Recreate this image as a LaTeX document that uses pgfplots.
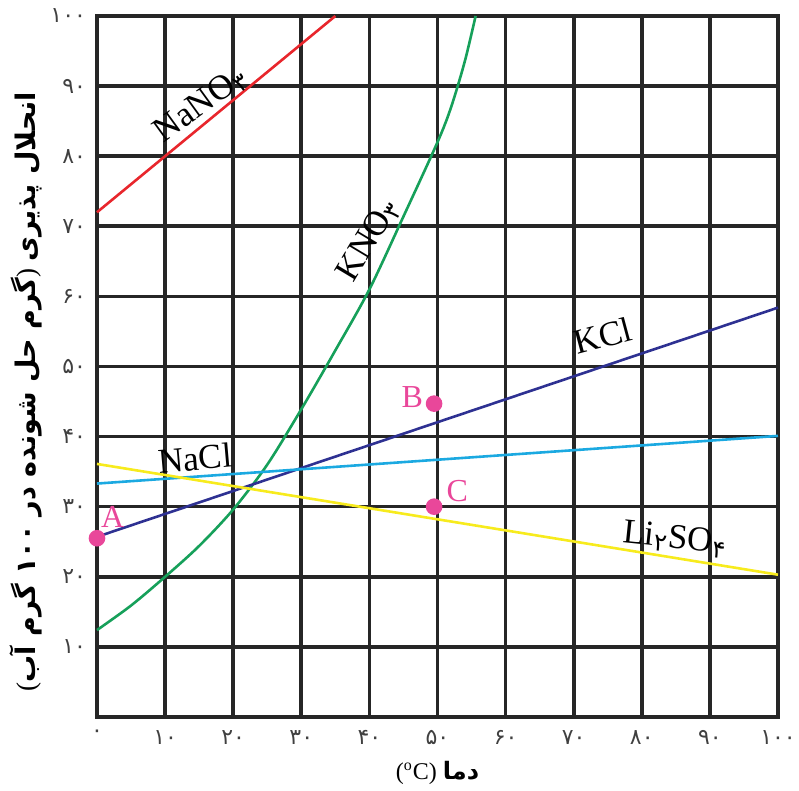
\documentclass[border=0pt]{standalone}
\usepackage{fontspec}
\setmainfont{Liberation Serif}
\newfontfamily\ar[Script=Arabic]{DejaVu Sans}
\TeXXeTstate=1
\usepackage{pgfplots}
\pgfplotsset{compat=1.18}

\definecolor{cNaNO}{HTML}{E8262C}
\definecolor{cKNO}{HTML}{16A05A}
\definecolor{cKCl}{HTML}{2E3192}
\definecolor{cNaCl}{HTML}{1BA9E1}
\definecolor{cLi}{HTML}{F7EB1D}
\definecolor{cPt}{HTML}{E9479A}

\begin{document}
\begin{tikzpicture}
\useasboundingbox (-48.5pt,-37pt) rectangle (351pt,358.5pt);
\begin{axis}[
    scale only axis,
    width=340.5pt, height=350.5pt,
    xmin=0, xmax=100, ymin=0, ymax=100,
    xtick={0,10,...,100},
    ytick={10,20,...,100},
    xticklabels={۰,۱۰,۲۰,۳۰,۴۰,۵۰,۶۰,۷۰,۸۰,۹۰,۱۰۰},
    yticklabels={۱۰,۲۰,۳۰,۴۰,۵۰,۶۰,۷۰,۸۰,۹۰,۱۰۰},
    ticklabel style={font=\ar\fontsize{11}{13}\selectfont, text=black!75},
    major tick length=0pt,
    xticklabel style={yshift=-3pt},
    yticklabel style={xshift=-2pt},
    grid=major,
    grid style={line width=1.8pt, color=black!85},
    axis line style={line width=1.8pt, black!85},
    xlabel={(\textsuperscript{o}C) {\ar\bfseries\beginR دما\endR}},
    xlabel style={at={(axis description cs:0.5,-0.08)}, anchor=center, font=\fontsize{12}{14}\selectfont},
    ylabel={({\ar\bfseries\beginR گرم حل شونده در ۱۰۰ گرم آب\endR}) {\ar\bfseries\beginR انحلال پذیری\endR}},
    ylabel style={at={(axis description cs:-0.104,0.464)}, anchor=center, font=\fontsize{13.5}{15}\selectfont},
    every axis plot/.append style={line width=1.3pt},
    clip=false,
]

% NaNO3
\addplot[cNaNO] coordinates {(0,72) (35,100)};
% KNO3
\addplot[cKNO, smooth] coordinates {
    (0,12.4) (5,15.9) (10,20) (15,24.4) (20,29.6) (25,36.0) (30,43.9)
    (35,52.3) (40,61) (45,71.4) (50,82) (52,87) (54,93.5) (55.6,100)
};
% KCl
\addplot[cKCl] coordinates {(0,25.7) (100,58.4)};
% NaCl
\addplot[cNaCl] coordinates {(0,33.3) (100,40.1)};
% Li2SO4
\addplot[cLi] coordinates {(0,36.1) (100,20.3)};

% points A, B, C
\addplot[only marks, mark=*, mark size=3.5pt, color=cPt] coordinates {(0,25.5) (49.5,44.7) (49.5,30)};

\node[rotate=36, font=\fontsize{17.5}{19}\selectfont] at (axis cs:15.3,87.3) {NaNO\textsubscript{\ar ۳}};
\node[rotate=59, font=\fontsize{17.5}{19}\selectfont] at (axis cs:39.9,68.0) {KNO\textsubscript{\ar ۳}};
\node[rotate=5, font=\fontsize{17.5}{19}\selectfont] at (axis cs:14.4,36.9) {NaCl};
\node[rotate=15, font=\fontsize{17.5}{19}\selectfont] at (axis cs:74.3,54.4) {KCl};
\node[rotate=-6, font=\fontsize{17.5}{19}\selectfont] at (axis cs:84.9,25.4) {Li\textsubscript{\ar ۲}SO\textsubscript{\ar ۴}};
\node[text=cPt, font=\fontsize{16}{18}\selectfont] at (axis cs:2.3,28.6) {A};
\node[text=cPt, font=\fontsize{16}{18}\selectfont] at (axis cs:46.3,45.7) {B};
\node[text=cPt, font=\fontsize{16}{18}\selectfont] at (axis cs:52.9,32.2) {C};
\end{axis}
\end{tikzpicture}
\end{document}
